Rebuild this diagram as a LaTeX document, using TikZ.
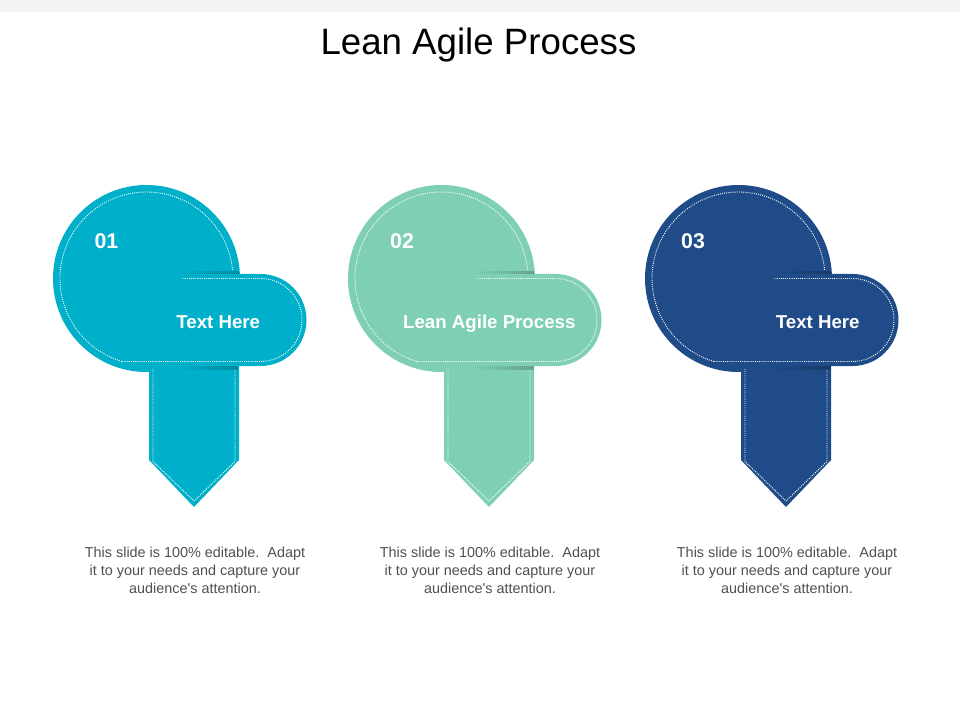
\documentclass[tikz,border=0pt]{standalone}
\usepackage{fontspec}
\setmainfont{Liberation Sans}
\usetikzlibrary{fadings}
\tikzfading[name=midfade, left color=transparent!100, right color=transparent!100, middle color=transparent!0]
\tikzfading[name=rightfade, left color=transparent!100, right color=transparent!0]
\definecolor{cA}{RGB}{0,176,202}
\definecolor{cB}{RGB}{127,207,182}
\definecolor{cC}{RGB}{31,76,136}
\definecolor{bodygray}{RGB}{80,80,80}
\definecolor{bargray}{RGB}{242,242,242}
\tikzset{
  dotline/.style={white, line width=0.7pt, dash pattern=on 0.7pt off 0.9pt},
  numtext/.style={font=\bfseries\fontsize{16}{19}\selectfont, text=white, anchor=base, inner sep=0pt},
  labeltext/.style={font=\bfseries\fontsize{14}{17}\selectfont, text=white, anchor=base, inner sep=0pt},
  bodytext/.style={font=\fontsize{10.8}{13.5}\selectfont, text=bodygray, align=center, anchor=north, inner sep=0pt},
  shadowband/.style={path fading=rightfade, opacity=0.35}
}
% #1 centre x, #2 colour, #3 index, #4 number x, #5 label, #6 label x
\newcommand\lapunit[6]{%
\begin{scope}[shift={(#1,0)}]
  \fill[#2] (2.5,330) -- (92.5,330) -- (92.5,460) -- (47.5,507) -- (2.5,460) -- cycle;
  \fill[#2] (0,278.5) circle[radius=93.5];
  \fill[#2] (-20,274) -- (114,274) arc[start angle=-90,end angle=90,radius=46] -- (-20,366) -- cycle;
  \fill[#2!40!black, shadowband] (33,271) rectangle (92,274);
  \fill[#2!40!black, shadowband] (30,366) rectangle (92,369.5);
  \draw[dotline] (0,278.5) ++(106.4:86.5) arc[start angle=106.4,end angle=355,radius=86.5];
  \draw[dotline] (36,278.5) -- (114,278.5) arc[start angle=-90,end angle=90,radius=41.5] -- (-24.4,361.5);
  \draw[dotline] (6.5,369) -- (6.5,461.5) -- (47.5,501) -- (88.5,461.5) -- (88.5,369);
  \node[numtext] (num#3) at (#4,248.3) {0#3};
  \node[labeltext] (lab#3) at (#6,328.3) {#5};
  \node[bodytext] (body#3) at (48.5,547) {This slide is 100\% editable.\ \ Adapt\\it to your needs and capture your\\audience\textquotesingle s attention.};
\end{scope}}
\begin{document}
\begin{tikzpicture}[x=0.75pt,y=-0.75pt]
  \useasboundingbox (0,0) rectangle (960,720);
  \fill[white] (0,0) rectangle (960,720);
  \fill[bargray] (0,0) rectangle (960,11.7);
  \node[font=\fontsize{27.5}{33}\selectfont, anchor=base, inner sep=0pt] (title) at (478.5,54.3) {Lean Agile Process};
  \lapunit{146.5}{cA}{1}{-40}{Text Here}{71.8}
  \lapunit{441.5}{cB}{2}{-39.5}{Lean Agile Process}{47.8}
  \lapunit{738.5}{cC}{3}{-45.5}{Text Here}{79.3}
\end{tikzpicture}
\end{document}
